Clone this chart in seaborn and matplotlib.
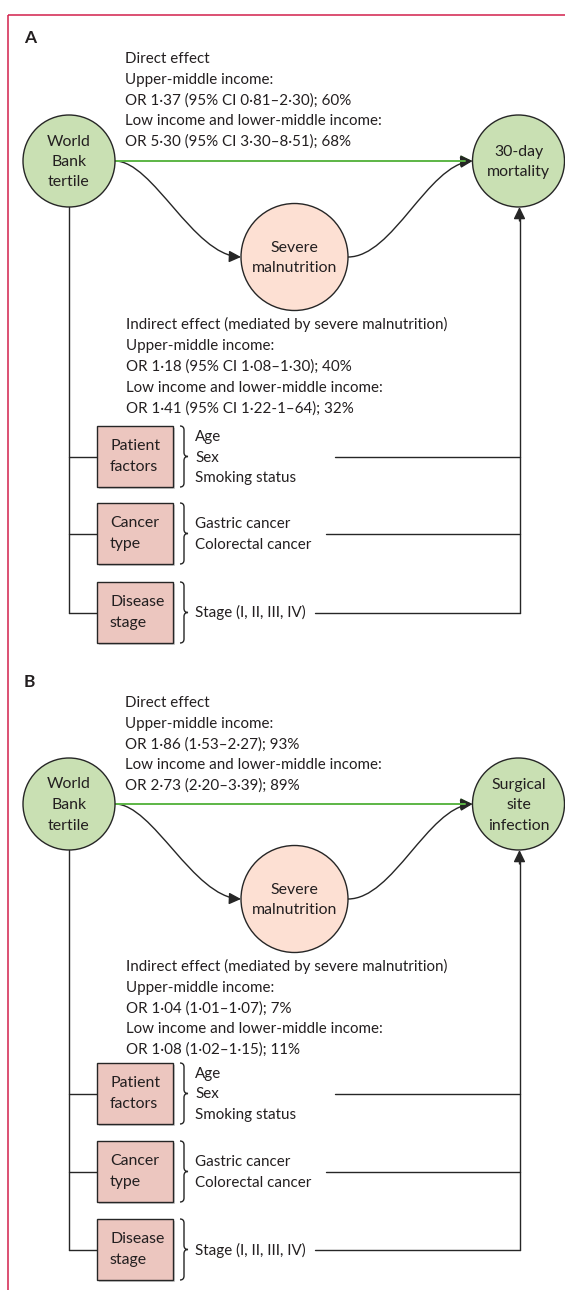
import matplotlib
matplotlib.use("Agg")
import matplotlib.pyplot as plt
import seaborn as sns
from matplotlib.patches import Circle, Rectangle, FancyArrowPatch, PathPatch, ArrowStyle
from matplotlib.path import Path

sns.set_theme(style="white")
plt.rcParams['font.family'] = ['Lato', 'DejaVu Sans']

# ---------------- data (text content) ----------------
panel_labels = ["A", "B"]
exposure_label = ["World", "Bank", "tertile"]
mediator_label = ["Severe", "malnutrition"]
outcome_labels = [["30-day", "mortality"], ["Surgical", "site", "infection"]]
direct_A = ["Direct effect", "Upper-middle income:",
            "OR 1·37 (95% CI 0·81–2·30); 60%",
            "Low income and lower-middle income:",
            "OR 5·30 (95% CI 3·30–8·51); 68%"]
indirect_A = ["Indirect effect (mediated by severe malnutrition)",
              "Upper-middle income:",
              "OR 1·18 (95% CI 1·08–1·30); 40%",
              "Low income and lower-middle income:",
              "OR 1·41 (95% CI 1·22-1–64); 32%"]
direct_B = ["Direct effect", "Upper-middle income:",
            "OR 1·86 (1·53–2·27); 93%",
            "Low income and lower-middle income:",
            "OR 2·73 (2·20–3·39); 89%"]
indirect_B = ["Indirect effect (mediated by severe malnutrition)",
              "Upper-middle income:",
              "OR 1·04 (1·01–1·07); 7%",
              "Low income and lower-middle income:",
              "OR 1·08 (1·02–1·15); 11%"]
confounder_boxes = [["Patient", "factors"], ["Cancer", "type"], ["Disease", "stage"]]
confounder_items = [["Age", "Sex", "Smoking status"],
                    ["Gastric cancer", "Colorectal cancer"],
                    ["Stage (I, II, III, IV)"]]

# ---------------- styling / layout ----------------
TXT = "#231f20"
GREEN_FILL = "#c9e0b3"
PEACH_FILL = "#fde0d3"
BOX_FILL = "#ecc6bf"
GREEN_LINE = "#5cb545"
FRAME = "#d2204c"
EDGE = "#262626"
FS = 10.9
FS_NODE = 11.4
LW = 1.0

W, H = 565, 1290
fig = plt.figure(figsize=(W / 100, H / 100), dpi=100)
ax = fig.add_axes([0, 0, 1, 1])
ax.set_xlim(0, W)
ax.set_ylim(H, 0)
ax.axis("off")

# frame
ax.plot([8, W], [15, 15], color=FRAME, lw=1.1, solid_capstyle="butt")
ax.plot([8, 8], [15, H], color=FRAME, lw=1.1, solid_capstyle="butt")


def text_lines(x, y0, step, lines, ha="left", **kw):
    for i, s in enumerate(lines):
        ax.text(x, y0 + i * step + 5, s, ha=ha, va="baseline", fontsize=FS,
                color=TXT, **kw)


def arrow_path(verts, color=EDGE):
    codes = [Path.MOVETO] + [Path.CURVE4] * (len(verts) - 1)
    style = ArrowStyle("-|>", head_length=0.45, head_width=0.22)
    p = FancyArrowPatch(path=Path(verts, codes), arrowstyle=style,
                        mutation_scale=16, color=color, lw=LW)
    ax.add_patch(p)


def straight_arrow(p0, p1, color=EDGE):
    p = FancyArrowPatch(p0, p1, arrowstyle=ArrowStyle("-|>", head_length=0.45, head_width=0.22),
                        mutation_scale=16, color=color, lw=LW, shrinkA=0, shrinkB=0)
    ax.add_patch(p)


def brace(x0, top, bottom, mid):
    xs = x0 + 4
    tip = x0 + 8
    verts = [(x0, top), (xs, top), (xs, top + 4),
             (xs, mid - 4),
             (xs, mid), (tip, mid),
             (xs, mid), (xs, mid + 4),
             (xs, bottom - 4),
             (xs, bottom), (x0, bottom)]
    codes = [Path.MOVETO, Path.CURVE3, Path.CURVE3,
             Path.LINETO,
             Path.CURVE3, Path.CURVE3,
             Path.CURVE3, Path.CURVE3,
             Path.LINETO,
             Path.CURVE3, Path.CURVE3]
    ax.add_patch(PathPatch(Path(verts, codes), fill=False, edgecolor=EDGE, lw=1.0))


panels = [
    dict(label=panel_labels[0], label_y=37, direct=direct_A, direct_y0=58, cy=161, sy=257,
         indirect=indirect_A, ind_y0=324, ind_step=21.0, outcome=outcome_labels[0],
         box_tops=[426, 503, 582]),
    dict(label=panel_labels[1], label_y=681, direct=direct_B, direct_y0=702, cy=804, sy=899,
         indirect=indirect_B, ind_y0=966, ind_step=20.7, outcome=outcome_labels[1],
         box_tops=[1063, 1141, 1219]),
]

EX_X, OUT_X, MED_X = 69, 518.5, 294.5
R, RM = 46, 53.5
BOX_X, BOX_W, BOX_H = 97, 76, 61
LINE_STARTS = [335, 326, 315]

for pn in panels:
    cy, sy = pn["cy"], pn["sy"]
    ax.text(24, pn["label_y"] + 6, pn["label"], fontsize=12.5, fontweight="bold",
            color=TXT, va="baseline", ha="left")
    text_lines(125, pn["direct_y0"], 20.8, pn["direct"])

    # circles
    ax.add_patch(Circle((EX_X, cy), R, facecolor=GREEN_FILL, edgecolor=EDGE, lw=LW, zorder=3))
    ax.add_patch(Circle((OUT_X, cy), R, facecolor=GREEN_FILL, edgecolor=EDGE, lw=LW, zorder=3))
    ax.add_patch(Circle((MED_X, sy), RM, facecolor=PEACH_FILL, edgecolor=EDGE, lw=LW, zorder=3))
    n = len(exposure_label)
    for i, s in enumerate(exposure_label):
        ax.text(EX_X, cy + (i - (n - 1) / 2) * 20.5 + 5, s, ha="center", va="baseline",
                fontsize=FS_NODE, color=TXT, zorder=4)
    n = len(pn["outcome"])
    for i, s in enumerate(pn["outcome"]):
        ax.text(OUT_X, cy + (i - (n - 1) / 2) * 20.5 + 5, s, ha="center", va="baseline",
                fontsize=FS_NODE, color=TXT, zorder=4)
    for i, s in enumerate(mediator_label):
        ax.text(MED_X, sy + (i - 0.5) * 20.5 + 5, s, ha="center", va="baseline",
                fontsize=FS_NODE, color=TXT, zorder=4)

    # direct (green) path
    ax.plot([EX_X + R, OUT_X - R - 8], [cy, cy], color=GREEN_LINE, lw=1.4, zorder=2)
    straight_arrow((OUT_X - R - 12, cy), (OUT_X - R, cy), color="#203a18")

    # mediated paths
    arrow_path([(EX_X + R, cy), (EX_X + R + 38, cy), (EX_X + R + 78, sy - 2), (MED_X - RM, sy)])
    arrow_path([(MED_X + RM, sy), (MED_X + RM + 45, sy), (OUT_X - R - 45, cy + 4), (OUT_X - R, cy)])

    text_lines(126, pn["ind_y0"], pn["ind_step"], pn["indirect"])

    # confounders
    mids = []
    for k, top in enumerate(pn["box_tops"]):
        mid = top + BOX_H / 2
        mids.append(mid)
        ax.add_patch(Rectangle((BOX_X + 1.5, top + 1.5), BOX_W, BOX_H, facecolor="#cfcfcf",
                               edgecolor="none", zorder=2))
        ax.add_patch(Rectangle((BOX_X, top), BOX_W, BOX_H, facecolor=BOX_FILL,
                               edgecolor=EDGE, lw=LW, zorder=3))
        for i, s in enumerate(confounder_boxes[k]):
            ax.text(BOX_X + 13, top + 19 + i * 21 + 5, s, ha="left", va="baseline",
                    fontsize=FS_NODE, color=TXT, zorder=4)
        items = confounder_items[k]
        m = len(items)
        for i, s in enumerate(items):
            ax.text(195, mid + (i - (m - 1) / 2) * 20.5 + 5, s, ha="left", va="baseline",
                    fontsize=FS, color=TXT)
        brace(180, top, top + BOX_H, mid)
        ax.plot([EX_X, BOX_X], [mid, mid], color=EDGE, lw=LW)
        ax.plot([LINE_STARTS[k], OUT_X + 1], [mid, mid], color=EDGE, lw=LW)

    ax.plot([EX_X, EX_X], [cy + R, mids[-1]], color=EDGE, lw=LW, zorder=2)
    ax.plot([OUT_X + 1, OUT_X + 1], [mids[-1], cy + R + 10], color=EDGE, lw=LW)
    straight_arrow((OUT_X + 1, cy + R + 14), (OUT_X + 1, cy + R))

fig.savefig("out.png", dpi=100)
